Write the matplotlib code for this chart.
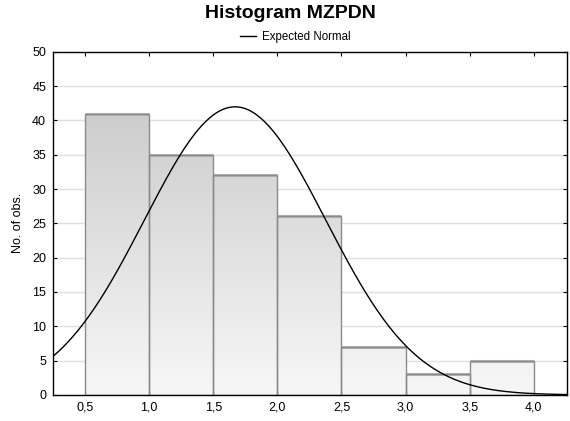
import numpy as np
import matplotlib
matplotlib.use("Agg")
import matplotlib.pyplot as plt
from matplotlib.patches import Rectangle
from matplotlib.colors import LinearSegmentedColormap
from matplotlib.ticker import FuncFormatter

plt.rcParams['font.family'] = ['Liberation Sans', 'DejaVu Sans']

# Histogram bins and counts
bin_edges = [0.5, 1.0, 1.5, 2.0, 2.5, 3.0, 3.5, 4.0]
counts = [41, 35, 32, 26, 7, 3, 5]

# Expected normal fit parameters
n_obs = sum(counts)
fit_mean = 1.67
fit_sd = 0.708
bin_width = 0.5

x_ticks = [0.5, 1.0, 1.5, 2.0, 2.5, 3.0, 3.5, 4.0]
y_ticks = [0, 5, 10, 15, 20, 25, 30, 35, 40, 45, 50]

fig = plt.figure(figsize=(5.7, 4.21), dpi=100)
ax = fig.add_axes([0.093, 0.062, 0.902, 0.815])

for y in y_ticks[1:-1]:
    ax.axhline(y, color='#e0e0e0', lw=1.0, zorder=0)

# vertical gradient, dark at top, light at bottom
grad = np.linspace(0, 1, 256).reshape(-1, 1)
cmap = LinearSegmentedColormap.from_list('g', ['#f7f7f7', '#c4c4c4'])
for left, right, c in zip(bin_edges[:-1], bin_edges[1:], counts):
    img = ax.imshow(grad, extent=(left, right, 0, 50), origin='lower',
                    cmap=cmap, aspect='auto', zorder=1)
    rect = Rectangle((left, 0), right - left, c, facecolor='none',
                     edgecolor='#8a8a8a', lw=1.0, zorder=2)
    ax.add_patch(rect)
    img.set_clip_path(rect)
    # light shadow edge at top
    ax.plot([left, right], [c, c], color='#b5b5b5', lw=2.2, zorder=1.5,
            solid_capstyle='butt')
ax.set_xlim(0.25, 4.26)
ax.set_ylim(0, 50)

xs = np.linspace(0.25, 4.26, 400)
ys = n_obs * bin_width / (fit_sd * np.sqrt(2 * np.pi)) * np.exp(-0.5 * ((xs - fit_mean) / fit_sd) ** 2)
ax.plot(xs, ys, color='black', lw=1.0, zorder=3, label='Expected Normal')

ax.set_xticks(x_ticks)
ax.set_yticks(y_ticks)
ax.xaxis.set_major_formatter(FuncFormatter(lambda v, p: f"{v:.1f}".replace('.', ',')))
ax.tick_params(direction='in', length=3, width=0.8, labelsize=9, top=True, right=True,
               pad=5, color='black')
for s in ax.spines.values():
    s.set_linewidth(1.0)
ax.set_ylabel('No. of obs.', fontsize=9, labelpad=6)

fig.text(0.51, 0.967, 'Histogram MZPDN', ha='center', va='center',
         fontsize=14, fontweight='bold')
leg = fig.legend(loc='center', bbox_to_anchor=(0.518, 0.911), frameon=False,
                 fontsize=8.3, handlelength=1.4, handletextpad=0.5)

fig.savefig('out.png', dpi=100)
